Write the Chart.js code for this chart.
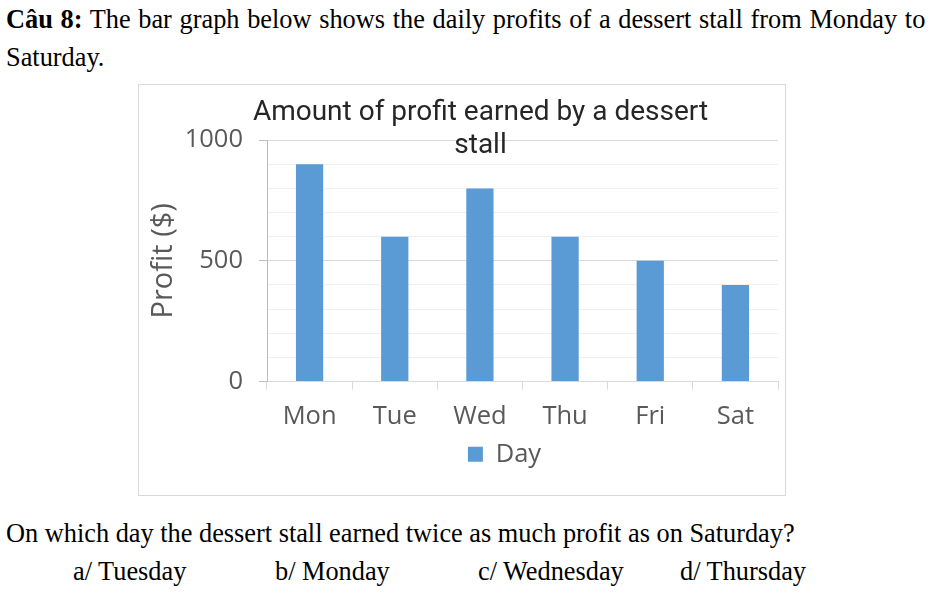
<!DOCTYPE html>
<html>
<head>
<meta charset="utf-8">
<script src="https://cdn.jsdelivr.net/npm/chart.js@4.4.1/dist/chart.umd.min.js"></script>
<style>
  html, body { margin: 0; padding: 0; background: #fff; }
  body { width: 933px; height: 595px; position: relative; overflow: hidden;
         font-family: "Liberation Serif", "Times New Roman", serif; color: #000; }
  .q { position: absolute; font-size: 28px; line-height: 36px; white-space: nowrap;
       transform: scaleX(0.94); transform-origin: 0 0; }
  .line1 { left: 6px; top: 1px; width: 978px; text-align: justify; text-align-last: justify; white-space: normal; }
  .line2 { left: 6px; top: 39px; }
  .line3 { left: 6px; top: 515px; }
  .opt { top: 553px; }
  #box { position: absolute; left: 138px; top: 84px; width: 646px; height: 410px;
         border: 1px solid #d9d9d9; }
</style>
</head>
<body>
<div class="q line1"><b>Câu 8:</b> The bar graph below shows the daily profits of a dessert stall from Monday to</div>
<div class="q line2">Saturday.</div>

<div id="box"><canvas id="profitChart" width="646" height="410"></canvas></div>

<div class="q line3">On which day the dessert stall earned twice as much profit as on Saturday?</div>
<div class="q opt" style="left:73px">a/ Tuesday</div>
<div class="q opt" style="left:275px">b/ Monday</div>
<div class="q opt" style="left:478px">c/ Wednesday</div>
<div class="q opt" style="left:680px">d/ Thursday</div>

<script>
// du lieu doc tu hinh
const days = ['Mon', 'Tue', 'Wed', 'Thu', 'Fri', 'Sat'];
const profit = [900, 600, 800, 600, 500, 400];
const yTicks = [0, 500, 1000];

const gray = '#595959';
const axisFont = { family: '"Open Sans", "Noto Sans", sans-serif', size: 25.5 };

// title and legend sit a bit right of centre in the original
const nudge = {
  id: 'nudge',
  afterLayout(chart) {
    chart.titleBlock.left += 22;
    chart.titleBlock.right += 22;
    chart.legend.left += 46;
    chart.legend.right += 46;
  },
};

const ctx = document.getElementById('profitChart');

new Chart(ctx, {
  type: 'bar',
  data: {
    labels: days,
    datasets: [{
      label: 'Day',
      data: profit,
      backgroundColor: '#5b9bd5',
      borderWidth: 0,
      barPercentage: 0.32,
      categoryPercentage: 1,
    }],
  },
  plugins: [nudge],
  options: {
    responsive: false,
    animation: false,
    layout: { padding: { left: 0, right: 7, top: 0, bottom: 18 } },
    plugins: {
      title: {
        display: true,
        text: ['Amount of profit earned by a dessert', 'stall'],
        color: '#262626',
        font: { family: 'Roboto, sans-serif', size: 28, weight: 'normal', lineHeight: 1.2 },
        padding: { top: 11, bottom: -23 },
      },
      legend: {
        position: 'bottom',
        labels: {
          color: gray,
          font: axisFont,
          boxWidth: 15,
          boxHeight: 15,
          padding: 10,
        },
      },
      tooltip: { enabled: false },
    },
    scales: {
      x: {
        afterFit: (scale) => { scale.height = 50; },
        grid: {
          drawOnChartArea: false,
          color: '#d9d9d9',
          tickLength: 8,
        },
        border: { color: '#d9d9d9' },
        ticks: { color: gray, font: axisFont, padding: 12 },
      },
      y: {
        min: 0,
        max: 1000,
        afterFit: (scale) => { scale.width = 128; },
        title: {
          display: true,
          text: 'Profit ($)',
          color: gray,
          font: { family: axisFont.family, size: 29 },
          padding: { top: 7, bottom: 0 },
        },
        grid: {
          color: (c) => (c.tick && yTicks.includes(c.tick.value)) ? '#d9d9d9' : '#efefef',
          tickColor: (c) => (c.tick && yTicks.includes(c.tick.value)) ? '#bfbfbf' : 'rgba(0,0,0,0)',
          tickLength: 8,
        },
        border: { color: '#9dc3e6' },
        ticks: {
          stepSize: 100,
          autoSkip: false,
          color: gray,
          font: axisFont,
          padding: 16,
          callback: (v) => yTicks.includes(v) ? v : '',
        },
      },
    },
  },
});
</script>
</body>
</html>
